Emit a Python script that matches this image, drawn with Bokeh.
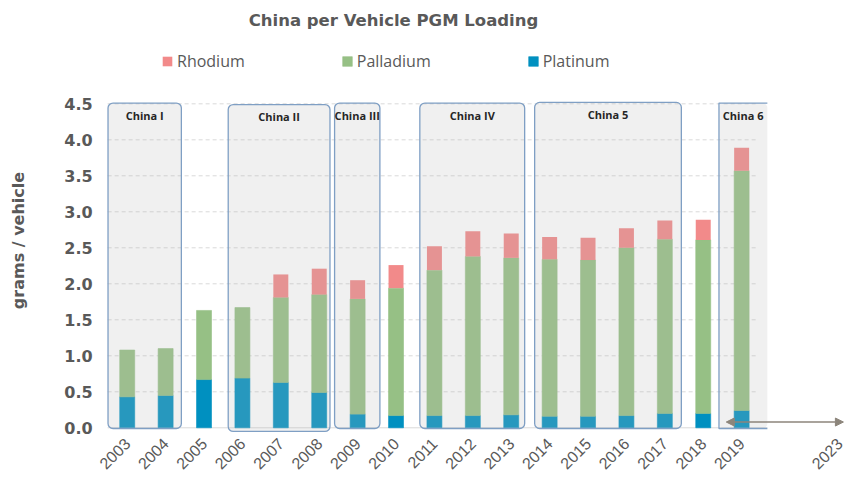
import math
from bokeh.plotting import figure
from bokeh.models import (Range1d, FixedTicker, PrintfTickFormatter, Legend, LegendItem,
                          Label, Arrow, NormalHead, ColumnDataSource)
from bokeh.core.properties import value
from bokeh.embed import file_html
from bokeh.resources import INLINE

# ---------------- data ----------------
years = [2003, 2004, 2005, 2006, 2007, 2008, 2009, 2010, 2011,
         2012, 2013, 2014, 2015, 2016, 2017, 2018, 2019]
platinum = [0.43, 0.45, 0.67, 0.69, 0.63, 0.49, 0.19, 0.17, 0.17,
            0.17, 0.18, 0.16, 0.16, 0.17, 0.20, 0.20, 0.24]
palladium = [0.65, 0.65, 0.96, 0.98, 1.18, 1.36, 1.60, 1.77, 2.02,
             2.21, 2.18, 2.18, 2.17, 2.33, 2.42, 2.41, 3.33]
rhodium = [0.00, 0.00, 0.00, 0.00, 0.32, 0.36, 0.26, 0.32, 0.33,
           0.35, 0.34, 0.31, 0.31, 0.27, 0.26, 0.28, 0.32]
series_names = ["Rhodium", "Palladium", "Platinum"]

# emission-standard periods (in year units)
box_names = ["China I", "China II", "China III", "China IV", "China 5", "China 6"]
box_left = [2002.50, 2005.63, 2008.40, 2010.62, 2013.61, 2018.41]
box_right = [2004.41, 2008.28, 2009.58, 2013.35, 2017.43, 2019.67]
box_top = [4.51, 4.49, 4.51, 4.51, 4.52, 4.51]
box_bottom = [-0.01, -0.05, -0.01, -0.01, -0.01, -0.01]

y_ticks = [0.0, 0.5, 1.0, 1.5, 2.0, 2.5, 3.0, 3.5, 4.0, 4.5]
projection_label = "2023"
projection_pos = 2021.55
arrow_from = 2018.6
arrow_to = 2021.65
arrow_level = 0.08

# ---------------- style ----------------
PT_COLOR = "#0090c0"
PD_COLOR = "#96c085"
RH_COLOR = "#f28a8a"
TEXT_GRAY = "#595959"

W, H = 850, 480
x_lo, x_hi = 1999.70, 2021.835
plot_left = 2002.49
grid_hi = years[-1] + 0.44
base_hi = box_right[-1]

p = figure(width=W, height=H,
           x_range=Range1d(x_lo, x_hi), y_range=Range1d(-0.732, 5.935),
           output_backend="svg", toolbar_location=None,
           min_border_left=0, min_border_right=0, min_border_top=0, min_border_bottom=0)
p.xgrid.visible = False
p.ygrid.visible = False
p.outline_line_color = None
p.background_fill_color = "white"
p.border_fill_color = "white"

# grid lines and baseline
grid_src = ColumnDataSource(dict(y=y_ticks[1:], x0=[plot_left] * (len(y_ticks) - 1),
                                 x1=[grid_hi] * (len(y_ticks) - 1)))
p.segment(x0="x0", y0="y", x1="x1", y1="y", source=grid_src,
          line_color="#d9d9d9", line_dash="4 3", line_width=1)
p.segment(x0=[plot_left], y0=[0], x1=[base_hi], y1=[0], line_color="#d9d9d9", line_width=1)

# stacked bars
src = ColumnDataSource(dict(year=years, pt=platinum, pd=palladium, rh=rhodium))
rs = p.vbar_stack(["pt", "pd", "rh"], x="year", width=0.39,
                  fill_color=[PT_COLOR, PD_COLOR, RH_COLOR],
                  line_color=[PT_COLOR, PD_COLOR, None], line_width=0.6, source=src)

# period boxes (semi-transparent overlay)
box_src = ColumnDataSource(dict(left=box_left, right=box_right, top=box_top,
                                bottom=box_bottom, name=box_names,
                                cx=[(a + b) / 2 for a, b in zip(box_left, box_right)]))
p.quad(left="left", right="right", top="top", bottom="bottom", source=box_src,
       fill_color="#b8b8b8", fill_alpha=0.21, line_color=None, border_radius=5)
closed = ColumnDataSource(dict(left=box_left[:-1], right=box_right[:-1],
                               top=box_top[:-1], bottom=box_bottom[:-1]))
p.quad(left="left", right="right", top="top", bottom="bottom", source=closed,
       fill_color=None, line_color="#7f9fc4", line_width=1.3, border_radius=5)
# last box is open on the right (runs off the plot area)
p.line(x=[box_right[-1], box_left[-1], box_left[-1], box_right[-1]],
       y=[box_bottom[-1], box_bottom[-1], box_top[-1], box_top[-1]],
       line_color="#7f9fc4", line_width=1.3)
p.text(x="cx", y="top", text="name", source=box_src, y_offset=12,
       text_align="center", text_baseline="middle",
       text_font=value("Open Sans"), text_font_style="bold",
       text_font_size="11px", text_color="#262626")

# projection arrow
p.add_layout(Arrow(start=NormalHead(size=8, fill_color="#8c857b", line_color="#8c857b"),
                   end=NormalHead(size=8, fill_color="#8c857b", line_color="#8c857b"),
                   x_start=arrow_from, y_start=arrow_level,
                   x_end=arrow_to, y_end=arrow_level,
                   line_color="#8c857b", line_width=1.5))

# axes (drawn inside the frame at fixed locations)
xa = p.xaxis[0]
xa.ticker = FixedTicker(ticks=years + [projection_pos])
xa.formatter = PrintfTickFormatter(format="%d")
xa.major_label_overrides = {projection_pos: projection_label}
xa.major_label_orientation = math.pi / 4
xa.fixed_location = 0
xa.axis_line_color = None
xa.major_tick_line_color = None
xa.minor_tick_line_color = None
xa.major_tick_out = 0
xa.major_label_standoff = 13
xa.major_label_text_font = "Liberation Sans"
xa.major_label_text_font_size = "16px"
xa.major_label_text_color = TEXT_GRAY

ya = p.yaxis[0]
ya.ticker = FixedTicker(ticks=y_ticks)
ya.formatter = PrintfTickFormatter(format="%.1f")
ya.fixed_location = plot_left
ya.axis_line_color = None
ya.major_tick_line_color = None
ya.minor_tick_line_color = None
ya.major_tick_out = 0
ya.major_label_standoff = 15
ya.major_label_text_font = "DejaVu Sans"
ya.major_label_text_font_style = "bold"
ya.major_label_text_font_size = "16px"
ya.major_label_text_color = TEXT_GRAY
ya.axis_label = "grams / vehicle"
ya.axis_label_text_font = "DejaVu Sans"
ya.axis_label_text_font_style = "bold"
ya.axis_label_text_font_size = "16px"
ya.axis_label_text_color = TEXT_GRAY
ya.axis_label_standoff = 33

# legend
legend = Legend(items=[LegendItem(label=series_names[0], renderers=[rs[2]]),
                       LegendItem(label=series_names[1], renderers=[rs[1]]),
                       LegendItem(label=series_names[2], renderers=[rs[0]])],
                orientation="horizontal", location=(161, 408), spacing=96,
                glyph_width=12, glyph_height=12, label_standoff=4,
                label_text_font="Open Sans", label_text_font_size="16px",
                label_text_color=TEXT_GRAY, border_line_color=None,
                background_fill_alpha=0, padding=0, margin=0)
p.add_layout(legend)

# title
p.add_layout(Label(x=393, y=460, x_units="screen", y_units="screen",
                   text="China per Vehicle PGM Loading", text_align="center",
                   text_baseline="middle", text_font="DejaVu Sans",
                   text_font_style="bold", text_font_size="16.5px",
                   text_color=TEXT_GRAY))

open("out.html", "w").write(file_html(p, INLINE))
